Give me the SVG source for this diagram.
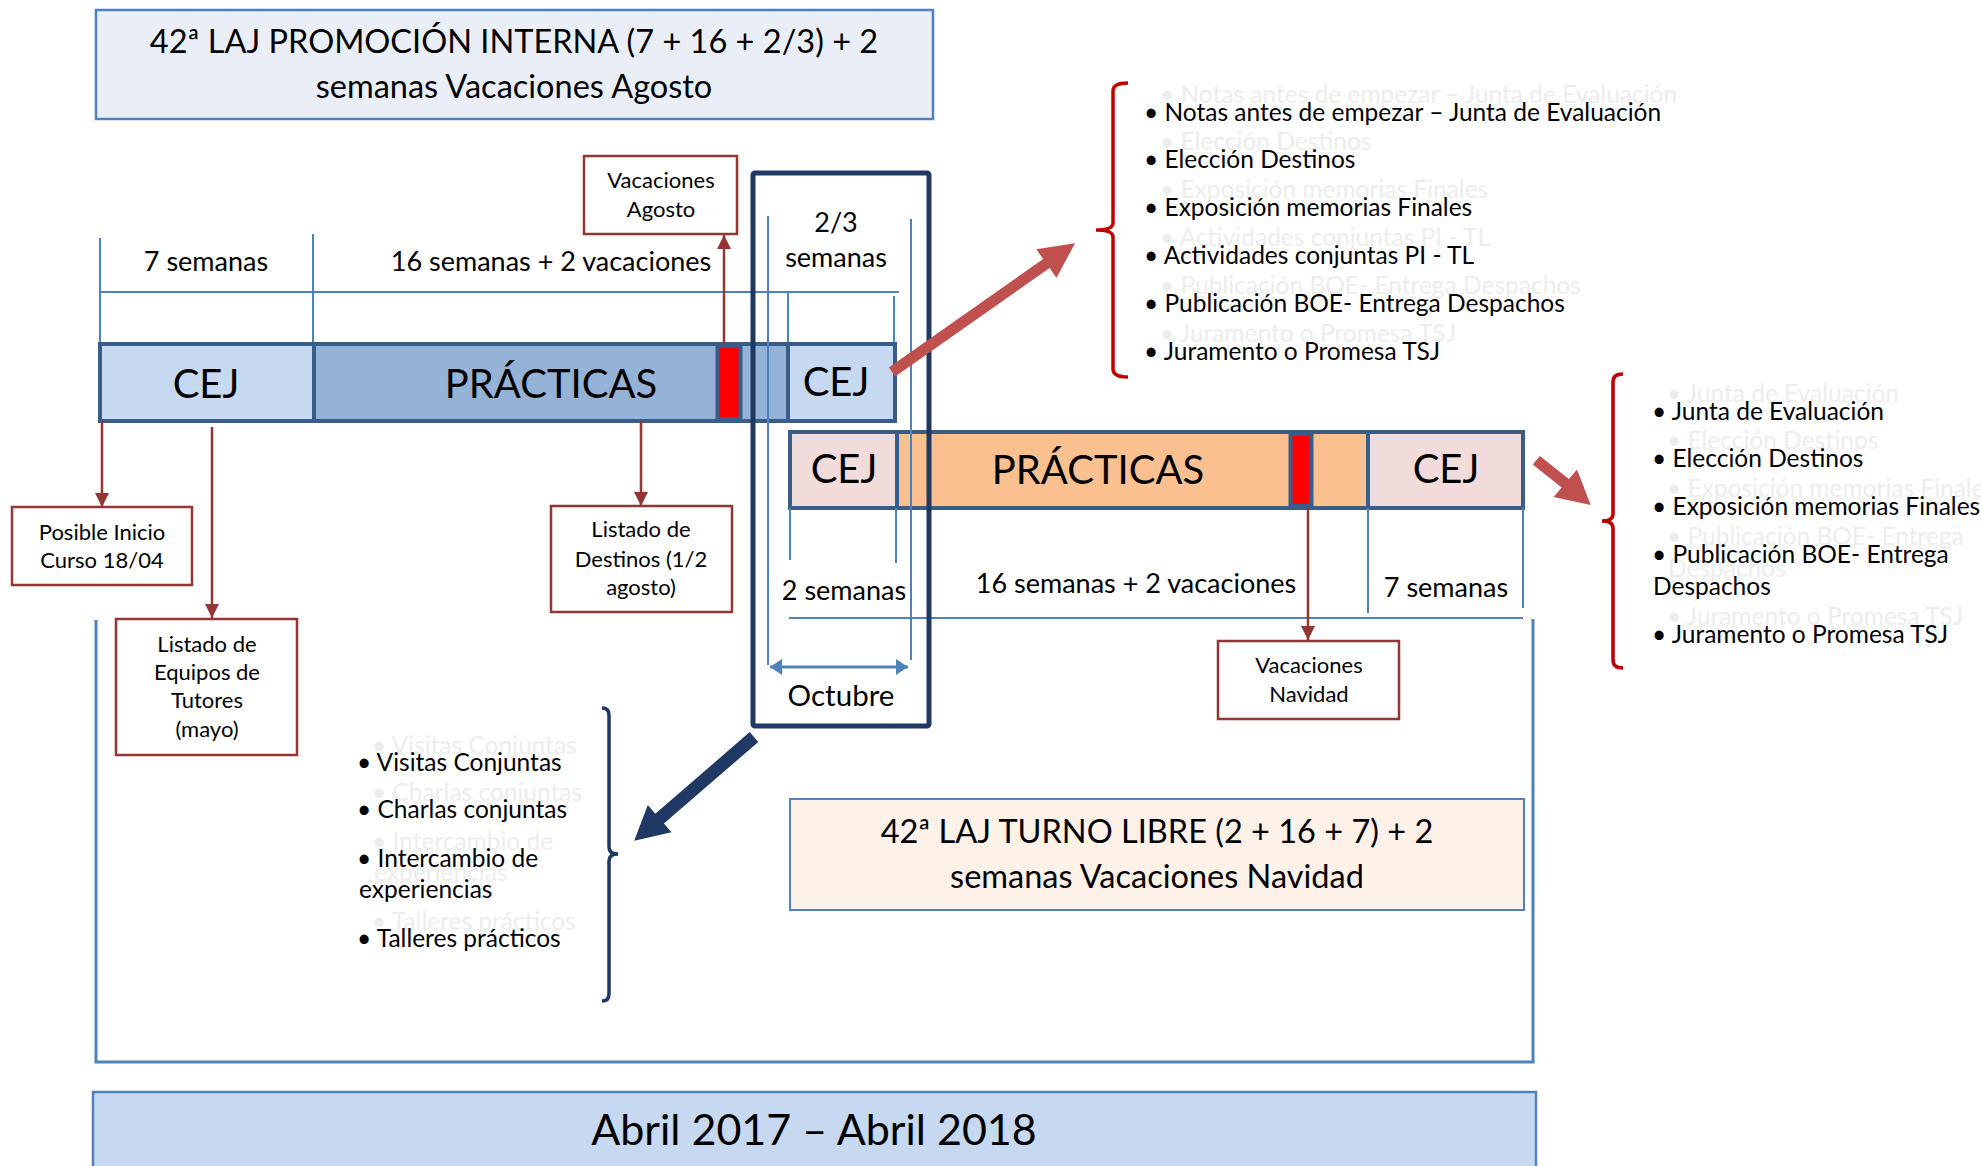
<svg xmlns="http://www.w3.org/2000/svg" width="1981" height="1166" viewBox="0 0 1981 1166">
<style>
text{font-family:Lato,"Open Sans","Liberation Sans",sans-serif;fill:#000}
.c{text-anchor:middle}
.ghost{fill:#EDEDED}
.thin{stroke:#4F81BD;stroke-width:2;fill:none}
.bar{stroke:#385D8A;stroke-width:4}
.lb{fill:#C6D9F1}.mb{fill:#95B3D7}.pk{fill:#F2DCDB}.or{fill:#FAC090}.rd{fill:#FF0000}
.rbox{fill:#fff;stroke:#943634;stroke-width:2.5}
.rcon{stroke:#943634;stroke-width:2.5;fill:none;marker-end:url(#ah)}
.big{font-size:40px}
.wk{font-size:27px}
.lst{font-size:24.5px}
.bx{font-size:22px}
.ttl{font-size:32.5px}
</style>
<defs>
<marker id="ah" viewBox="0 0 14 14" refX="14" refY="7" markerWidth="14" markerHeight="14" orient="auto" markerUnits="userSpaceOnUse"><path d="M0,0 L14,7 L0,14 z" fill="#943634"/></marker>
<marker id="bh" viewBox="0 0 12 16" refX="12" refY="8" markerWidth="12" markerHeight="16" orient="auto-start-reverse" markerUnits="userSpaceOnUse"><path d="M0,0 L12,8 L0,16 z" fill="#4F81BD"/></marker>
</defs>
<rect width="1981" height="1166" fill="#fff"/>

<g id="title-pi">
<rect x="96" y="10" width="837" height="109" fill="#EAEFF7" stroke="#4F81BD" stroke-width="2.5"/>
<text class="c ttl" x="514" y="53">42ª LAJ PROMOCIÓN INTERNA (7 + 16 + 2/3) + 2</text>
<text class="c ttl" x="514" y="98">semanas Vacaciones Agosto</text>
</g>

<g id="upper-scale">
<path class="thin" d="M100,238 V344 M313,234 V344 M100,292 H899 M788,292 V344 M894,296 V344"/>
<text class="c wk" x="206" y="271">7 semanas</text>
<text class="c wk" x="551" y="271">16 semanas + 2 vacaciones</text>
<text class="c wk" x="836" y="232">2/3</text>
<text class="c wk" x="836" y="267">semanas</text>
</g>

<g id="bar-pi">
<rect class="bar lb" x="100" y="344" width="214" height="77"/>
<rect class="bar mb" x="314" y="344" width="474" height="77"/>
<rect class="bar rd" x="717.5" y="346" width="23" height="73"/>
<rect class="bar lb" x="788" y="344" width="107" height="77"/>
<text class="c big" x="206" y="398">CEJ</text>
<text class="c big" x="551" y="398">PRÁCTICAS</text>
<text class="c big" x="836" y="396">CEJ</text>
</g>

<g id="bar-tl">
<rect class="bar pk" x="790" y="432" width="107" height="76"/>
<rect class="bar or" x="897" y="432" width="471" height="76"/>
<rect class="bar rd" x="1290.5" y="434" width="21" height="72"/>
<rect class="bar pk" x="1368" y="432" width="155" height="76"/>
<text class="c big" x="844" y="483">CEJ</text>
<text class="c big" x="1098" y="484">PRÁCTICAS</text>
<text class="c big" x="1446" y="483">CEJ</text>
</g>

<g id="lower-scale">
<path class="thin" d="M790,508 V560 M896,508 V563 M1368,508 V613 M1523,508 V608 M789,618 H1523"/>
<text class="c wk" x="844" y="600">2 semanas</text>
<text class="c wk" x="1136" y="593">16 semanas + 2 vacaciones</text>
<text class="c wk" x="1446" y="597">7 semanas</text>
</g>

<g id="octubre">
<path class="thin" d="M768,216 V665 M911,219 V660"/>
<line x1="770" y1="667" x2="908" y2="667" stroke="#4F81BD" stroke-width="3" marker-start="url(#bh)" marker-end="url(#bh)"/>
<rect x="753" y="173" width="176" height="553" rx="2" fill="none" stroke="#1F3864" stroke-width="5"/>
<text class="c" x="841" y="706" font-size="29.5">Octubre</text>
</g>

<g id="frame">
<path d="M96,620 V1062 H1533 V619" fill="none" stroke="#4F81BD" stroke-width="3"/>
</g>

<g id="vac-agosto">
<rect class="rbox" x="584" y="156" width="153" height="78"/>
<text class="c bx" x="661" y="188">Vacaciones</text>
<text class="c bx" x="661" y="217">Agosto</text>
</g>

<g id="inicio">
<rect class="rbox" x="12" y="507" width="180" height="78"/>
<text class="c bx" x="102" y="540">Posible Inicio</text>
<text class="c bx" x="102" y="568">Curso 18/04</text>
</g>

<g id="tutores">
<rect class="rbox" x="116" y="619" width="181" height="136"/>
<text class="c bx" x="207" y="652">Listado de</text>
<text class="c bx" x="207" y="680">Equipos de</text>
<text class="c bx" x="207" y="708">Tutores</text>
<text class="c bx" x="207" y="737">(mayo)</text>
</g>

<g id="destinos">
<rect class="rbox" x="551" y="506" width="181" height="106"/>
<text class="c bx" x="641" y="537">Listado de</text>
<text class="c bx" x="641" y="567">Destinos (1/2</text>
<text class="c bx" x="641" y="595">agosto)</text>
</g>

<g id="vac-navidad">
<rect class="rbox" x="1218" y="641" width="181" height="78"/>
<text class="c bx" x="1309" y="673">Vacaciones</text>
<text class="c bx" x="1309" y="702">Navidad</text>
</g>

<g id="title-tl">
<rect x="790" y="799" width="734" height="111" fill="#FDF1E8" stroke="#4F81BD" stroke-width="2"/>
<text class="c ttl" x="1157" y="843">42ª LAJ TURNO LIBRE (2 + 16 + 7) + 2</text>
<text class="c ttl" x="1157" y="888">semanas Vacaciones Navidad</text>
</g>

<g id="periodo">
<rect x="93" y="1092" width="1443" height="80" fill="#C6D9F1" stroke="#4F81BD" stroke-width="2.5"/>
<text class="c" x="814" y="1145" font-size="43">Abril 2017 – Abril 2018</text>
</g>

<g id="list-pi">
<path d="M1128,83 Q1113,83 1113,91 L1113,223 Q1113,230 1096,230 Q1113,230 1113,237 L1113,369 Q1113,377 1128,377" fill="none" stroke="#C00000" stroke-width="3.5"/>
<g class="lst">
<text class="ghost" x="1160" y="103">• Notas antes de empezar – Junta de Evaluación</text>
<text class="ghost" x="1160" y="150">• Elección Destinos</text>
<text class="ghost" x="1160" y="198">• Exposición memorias Finales</text>
<text class="ghost" x="1160" y="246">• Actividades conjuntas PI - TL</text>
<text class="ghost" x="1160" y="294">• Publicación BOE- Entrega Despachos</text>
<text class="ghost" x="1160" y="342">• Juramento o Promesa TSJ</text>
<text x="1144" y="121">• Notas antes de empezar – Junta de Evaluación</text>
<text x="1144" y="168">• Elección Destinos</text>
<text x="1144" y="216">• Exposición memorias Finales</text>
<text x="1144" y="264">• Actividades conjuntas PI - TL</text>
<text x="1144" y="312">• Publicación BOE- Entrega Despachos</text>
<text x="1144" y="360">• Juramento o Promesa TSJ</text>
</g>
</g>

<g id="list-tl">
<path d="M1623,374 Q1613,374 1613,382 L1613,514 Q1613,521 1602,521 Q1613,521 1613,528 L1613,660 Q1613,668 1623,668" fill="none" stroke="#C00000" stroke-width="3.5"/>
<g class="lst">
<text class="ghost" x="1667" y="402">• Junta de Evaluación</text>
<text class="ghost" x="1667" y="449">• Elección Destinos</text>
<text class="ghost" x="1667" y="497">• Exposición memorias Finales</text>
<text class="ghost" x="1667" y="545">• Publicación BOE- Entrega</text>
<text class="ghost" x="1668" y="577">Despachos</text>
<text class="ghost" x="1667" y="625">• Juramento o Promesa TSJ</text>
<text x="1652" y="420">• Junta de Evaluación</text>
<text x="1652" y="467">• Elección Destinos</text>
<text x="1652" y="515">• Exposición memorias Finales</text>
<text x="1652" y="563">• Publicación BOE- Entrega</text>
<text x="1653" y="595">Despachos</text>
<text x="1652" y="643">• Juramento o Promesa TSJ</text>
</g>
</g>

<g id="list-joint">
<path d="M602,708 Q609,708 609,715 L609,847 Q609,854 618,854 Q609,854 609,861 L609,994 Q609,1001 602,1001" fill="none" stroke="#1F3864" stroke-width="3.5"/>
<g class="lst">
<text class="ghost" x="372" y="754">• Visitas Conjuntas</text>
<text class="ghost" x="372" y="801">• Charlas conjuntas</text>
<text class="ghost" x="372" y="850">• Intercambio de</text>
<text class="ghost" x="374" y="881">experiencias</text>
<text class="ghost" x="372" y="930">• Talleres prácticos</text>
<text x="357" y="771">• Visitas Conjuntas</text>
<text x="357" y="818">• Charlas conjuntas</text>
<text x="357" y="867">• Intercambio de</text>
<text x="359" y="898">experiencias</text>
<text x="357" y="947">• Talleres prácticos</text>
</g>
</g>

<g id="connectors">
<line class="rcon" x1="724" y1="344" x2="724" y2="235"/>
<line class="rcon" x1="102" y1="421" x2="102" y2="507"/>
<line class="rcon" x1="212" y1="427" x2="212" y2="618"/>
<line class="rcon" x1="641" y1="421" x2="641" y2="506"/>
<line class="rcon" x1="1308" y1="508" x2="1308" y2="640"/>
<polygon fill="#C0504D" points="888.8,367.5 1043.2,259.0 1036.3,249.2 1075,243.3 1056.5,277.8 1049.6,268.0 895.2,376.5"/>
<polygon fill="#C0504D" points="1532.7,464.5 1561.7,487.5 1553.6,497.0 1590.7,505 1577.0,469.6 1568.9,479.1 1539.9,456.1"/>
<polygon fill="#1F3864" points="758.3,741.9 663.9,823.6 671.4,832.3 634.2,840.7 647.8,805.1 655.3,813.8 749.7,732.1"/>
</g>
</svg>
